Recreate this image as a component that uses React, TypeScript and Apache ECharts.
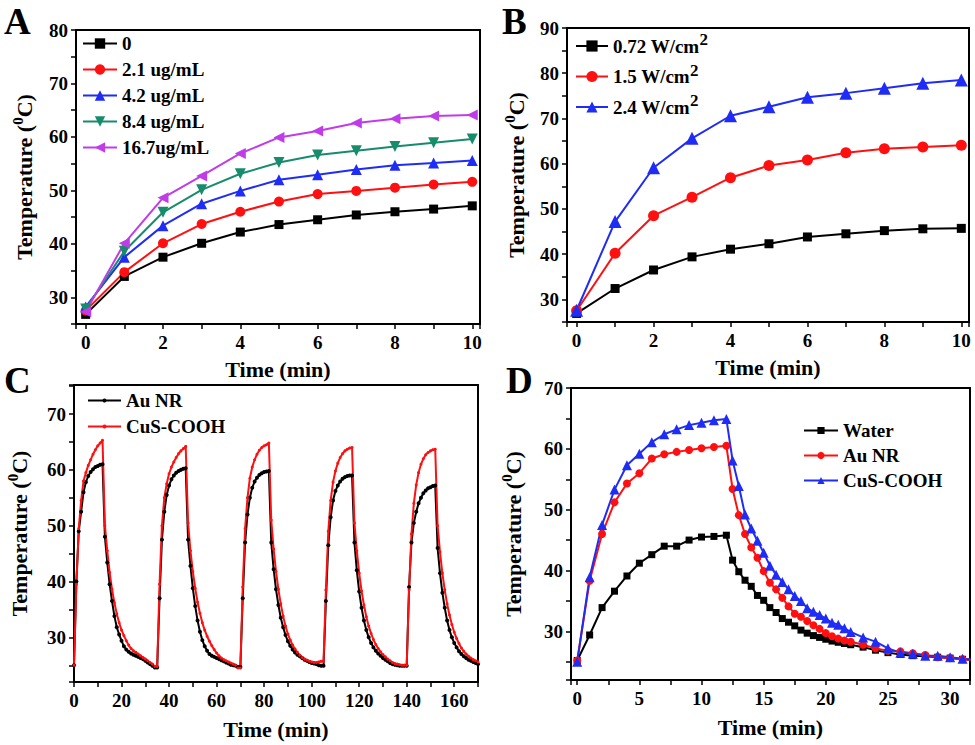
import React, { useEffect, useRef } from 'react';
import * as echarts from 'echarts';

const FONT = '"Liberation Serif", "Times New Roman", serif';

// ---------- Panel A ----------
const timeA = [0, 1, 2, 3, 4, 5, 6, 7, 8, 9, 10];
const namesA = ['0', '2.1 ug/mL', '4.2 ug/mL', '8.4 ug/mL', '16.7ug/mL'];
const a0 = [26.8, 33.9, 37.5, 40.1, 42.2, 43.6, 44.5, 45.4, 46.0, 46.5, 47.1];
const a21 = [27.5, 34.7, 40.1, 43.7, 46.0, 47.9, 49.3, 49.9, 50.5, 51.1, 51.6];
const a42 = [28.2, 37.5, 43.4, 47.5, 49.9, 52.0, 52.9, 53.9, 54.7, 55.1, 55.6];
const a84 = [27.8, 38.6, 45.9, 50.1, 53.1, 55.2, 56.6, 57.4, 58.2, 58.9, 59.6];
const a167 = [27.3, 40.1, 48.6, 52.7, 56.9, 59.9, 61.1, 62.6, 63.4, 63.9, 64.1];

// ---------- Panel B ----------
const timeB = [0, 1, 2, 3, 4, 5, 6, 7, 8, 9, 10];
const namesB = ['0.72 W/cm', '1.5 W/cm', '2.4 W/cm'];
const b072 = [26.9, 32.4, 36.5, 39.4, 41.1, 42.3, 43.8, 44.5, 45.2, 45.6, 45.7];
const b15 = [27.5, 40.2, 48.5, 52.6, 56.9, 59.6, 60.8, 62.4, 63.3, 63.7, 64.1];
const b24 = [27.6, 47.2, 59.1, 65.6, 70.6, 72.6, 74.7, 75.6, 76.7, 77.8, 78.5];

// ---------- Panel C (1-min readings per on/off cycle) ----------
const cycleStartsC = [0, 35, 70, 105, 140];
const auC1 = [25.0, 40.0, 49.0, 52.5, 56.0, 57.8, 58.9, 59.6, 60.1, 60.5, 60.7, 60.9, 61.0, 48.0, 43.4, 39.5, 36.5, 33.8, 31.8, 30.5, 29.4, 28.4, 27.8, 27.4, 27.1, 26.9, 26.7, 26.5, 26.3, 26.1, 25.8, 25.5, 25.2, 24.9, 24.6];
const auC2 = [24.6, 37.0, 47.5, 52.5, 55.5, 57.2, 58.3, 59.0, 59.5, 59.8, 60.0, 60.2, 60.3, 47.5, 42.8, 38.8, 35.6, 33.0, 31.0, 29.5, 28.4, 27.6, 27.0, 26.7, 26.5, 26.3, 26.1, 25.9, 25.7, 25.5, 25.3, 25.1, 25.0, 24.9, 24.7];
const auC3 = [24.7, 37.0, 47.0, 52.0, 55.0, 56.8, 57.9, 58.6, 59.1, 59.4, 59.6, 59.7, 59.8, 47.0, 42.2, 38.6, 35.8, 33.5, 31.8, 30.4, 29.3, 28.5, 27.8, 27.3, 26.9, 26.6, 26.3, 26.0, 25.8, 25.6, 25.4, 25.3, 25.2, 25.0, 24.9];
const auC4 = [24.9, 36.5, 46.5, 51.5, 54.5, 56.2, 57.2, 57.9, 58.4, 58.7, 58.9, 59.0, 59.0, 47.0, 42.0, 38.2, 35.3, 33.0, 31.3, 30.0, 29.0, 28.2, 27.6, 27.1, 26.7, 26.3, 26.0, 25.7, 25.4, 25.2, 25.1, 25.0, 24.9, 24.9, 24.9];
const auC5 = [24.9, 39.0, 47.0, 50.5, 52.5, 54.0, 55.0, 55.8, 56.3, 56.7, 56.9, 57.1, 57.2, 46.0, 41.5, 38.0, 35.3, 33.0, 31.3, 30.0, 29.0, 28.2, 27.5, 27.0, 26.6, 26.3, 26.0, 25.8, 25.6, 25.4, 25.2];
const cuC1 = [25.0, 39.5, 49.5, 54.5, 58.0, 59.5, 60.8, 61.8, 62.8, 63.6, 64.3, 64.8, 65.3, 50.0, 45.5, 41.6, 38.6, 36.2, 34.2, 32.6, 31.3, 30.3, 29.4, 28.6, 28.0, 27.6, 27.3, 27.0, 26.7, 26.4, 26.1, 25.8, 25.5, 25.2, 24.8];
const cuC2 = [24.8, 39.5, 50.0, 55.0, 57.5, 59.3, 60.5, 61.4, 62.2, 62.9, 63.4, 63.8, 64.2, 50.5, 45.5, 41.8, 38.8, 36.3, 34.3, 32.6, 31.3, 30.2, 29.3, 28.5, 27.8, 27.2, 26.7, 26.3, 26.0, 25.8, 25.6, 25.4, 25.2, 25.0, 24.5];
const cuC3 = [24.5, 39.0, 49.5, 55.0, 58.5, 60.5, 61.8, 62.8, 63.5, 64.0, 64.3, 64.5, 64.8, 51.0, 45.8, 41.8, 38.6, 36.0, 33.8, 32.0, 30.6, 29.5, 28.6, 27.9, 27.3, 26.8, 26.4, 26.1, 25.9, 25.7, 25.6, 25.5, 25.5, 25.6, 25.7];
const cuC4 = [25.7, 38.5, 49.0, 54.5, 57.8, 59.8, 61.2, 62.2, 62.9, 63.4, 63.7, 63.9, 64.0, 50.5, 45.5, 41.5, 38.3, 35.8, 33.7, 32.0, 30.7, 29.6, 28.7, 28.0, 27.4, 26.9, 26.5, 26.1, 25.8, 25.5, 25.3, 25.2, 25.1, 25.0, 25.0];
const cuC5 = [25.0, 38.5, 48.5, 54.0, 57.3, 59.5, 61.0, 62.0, 62.7, 63.1, 63.4, 63.6, 63.7, 50.0, 45.3, 41.5, 38.5, 36.0, 34.0, 32.3, 30.9, 29.8, 28.9, 28.1, 27.5, 27.0, 26.6, 26.3, 26.0, 25.8, 25.6];
const auCycles = [auC1, auC2, auC3, auC4, auC5];
const cuCycles = [cuC1, cuC2, cuC3, cuC4, cuC5];

// ---------- Panel D ----------
const timeD = [0, 1, 2, 3, 4, 5, 6, 7, 8, 9, 10, 11, 12, 12.5, 13, 13.5, 14, 14.5, 15, 15.5, 16, 16.5, 17, 17.5, 18, 18.5, 19, 19.5, 20, 20.5, 21, 21.5, 22, 23, 24, 25, 26, 27, 28, 29, 30, 31, 32];
const waterD = [25.2, 29.4, 33.9, 36.6, 39.1, 41.2, 42.6, 44.0, 44.0, 45.0, 45.5, 45.6, 45.8, 41.7, 39.8, 38.4, 37.4, 35.9, 35.1, 33.9, 33.1, 32.1, 31.5, 30.9, 30.2, 29.7, 29.3, 29.0, 28.7, 28.4, 28.2, 28.0, 27.8, 27.4, 26.9, 26.5, 26.2, 26.0, 25.9, 25.75, 25.6, 25.4, 25.3];
const auD = [25.2, 38.3, 46.0, 51.2, 54.3, 56.0, 58.4, 59.1, 59.5, 59.8, 60.1, 60.3, 60.5, 53.4, 49.1, 46.0, 43.8, 42.1, 39.9, 38.0, 36.9, 35.5, 34.1, 32.9, 32.4, 31.7, 31.0, 30.4, 29.7, 29.2, 28.8, 28.5, 28.3, 27.8, 27.2, 26.8, 26.7, 26.4, 26.1, 25.75, 25.6, 25.4, 25.3];
const cuD = [25.0, 38.9, 47.5, 53.3, 57.3, 59.2, 61.1, 62.4, 63.2, 63.9, 64.3, 64.7, 64.9, 58.1, 53.9, 49.2, 46.9, 44.9, 42.9, 40.8, 39.3, 38.1, 36.9, 35.8, 35.0, 33.8, 33.2, 32.7, 32.1, 31.4, 31.1, 30.5, 29.9, 29.0, 28.3, 27.2, 26.5, 26.3, 26.0, 26.0, 25.75, 25.5, 25.3];

const pairs = (xs: number[], ys: number[]) => ys.map((y, i) => [xs[i], y]);
const cyclePairs = (cycles: number[][]) =>
  cycles.flatMap((vals, c) => vals.map((v, i) => [cycleStartsC[c] + i, v]));

const isMult = (v: number, s: number) => Math.abs(v / s - Math.round(v / s)) < 1e-6;
const strip = (n: string) => n.replace(/^[A-D]:/, '');

const baseText = { fontFamily: FONT, fontWeight: 'bold' as const, color: '#000' };

function xAxis(gridIndex: number, min: number, max: number, step: number, labelStep: number, nameGap: number) {
  return {
    type: 'value', gridIndex, min, max, minInterval: step, maxInterval: step,
    name: 'Time (min)', nameLocation: 'middle', nameGap,
    nameTextStyle: { ...baseText, fontSize: 22 },
    axisLine: { show: true, onZero: false, lineStyle: { color: '#000', width: 2 } },
    axisTick: { show: true, inside: false, length: 5, lineStyle: { color: '#000', width: 1.5 } },
    axisLabel: {
      ...baseText, fontSize: 19, margin: 9,
      formatter: (v: number) => (isMult(v, labelStep) ? String(Math.round(v)) : ''),
    },
    splitLine: { show: false },
  };
}

function yAxis(gridIndex: number, min: number, max: number, step: number, nameGap: number) {
  return {
    type: 'value', gridIndex, min, max, minInterval: step, maxInterval: step,
    name: '{a|Temperature (}{s|0}{a|C)}', nameLocation: 'middle', nameGap, nameRotate: 90,
    nameTextStyle: {
      ...baseText, fontSize: 22,
      rich: {
        a: { ...baseText, fontSize: 22, lineHeight: 28 },
        s: { ...baseText, fontSize: 15, lineHeight: 15, verticalAlign: 'top' },
      },
    },
    axisLine: { show: true, onZero: false, lineStyle: { color: '#000', width: 2 } },
    axisTick: { show: true, inside: false, length: 5, lineStyle: { color: '#000', width: 1.5 } },
    axisLabel: {
      ...baseText, fontSize: 19, margin: 8,
      formatter: (v: number) => (isMult(v, 10) ? String(Math.round(v)) : ''),
    },
    splitLine: { show: false },
  };
}

function line(name: string, data: number[][], idx: number, color: string, symbol: string, size: number, rotate = 0, width = 2) {
  return {
    type: 'line', name, data, xAxisIndex: idx, yAxisIndex: idx,
    symbol, symbolSize: size, symbolRotate: rotate, showSymbol: true,
    lineStyle: { color, width }, itemStyle: { color, borderWidth: 0 },
    emphasis: { disabled: true }, clip: true, z: 3,
  };
}

const RED = '#ff1010';
const BLUE = '#1f2cf5';
const GREEN = '#178c6c';
const PURPLE = '#c03ce8';

function legendBase(names: string[], left: number, top: number, itemGap: number, itemWidth: number, itemHeight: number) {
  return {
    data: names, left, top, orient: 'vertical', itemGap, itemWidth, itemHeight,
    textStyle: { ...baseText, fontSize: 19 },
    formatter: strip, selectedMode: false, padding: 0,
  };
}

const letterStyle = (t: string) => ({
  text: t, fontFamily: FONT, fontWeight: 'bold', fontSize: 37, fill: '#000', verticalAlign: 'top',
});

export default function App() {
  const ref = useRef<HTMLDivElement>(null);
  useEffect(() => {
    if (!ref.current) return;
    const chart = echarts.init(ref.current, undefined, { renderer: 'svg' });
    const aNames = namesA.map((n) => 'A:' + n);
    const bNames = namesB.map((n) => 'B:' + n);
    const option: any = {
      animation: false,
      backgroundColor: '#fff',
      grid: [
        { left: 76, top: 30, width: 404, height: 294 },
        { left: 567, top: 28, width: 402, height: 294 },
        { left: 74, top: 385, width: 404, height: 297 },
        { left: 571, top: 388, width: 399, height: 292 },
      ].map((g) => ({ ...g, show: true, borderColor: '#000', borderWidth: 2, backgroundColor: 'transparent' })),
      xAxis: [
        xAxis(0, -0.25, 10.2, 1, 2, 34),
        xAxis(1, -0.25, 10.2, 1, 2, 34),
        xAxis(2, 0, 170, 10, 20, 36),
        xAxis(3, -0.5, 31.6, 2.5, 5, 36),
      ],
      yAxis: [
        yAxis(0, 25, 80, 5, 38),
        yAxis(1, 25, 90, 5, 37),
        yAxis(2, 22, 75.2, 5, 41),
        yAxis(3, 22, 70, 5, 44),
      ],
      legend: [
        legendBase(aNames, 82, 34, 7, 34, 13),
        {
          ...legendBase(bNames, 575, 31, 6, 32, 14),
          formatter: (n: string) => `{a|${strip(n)}}{s|2}`,
          textStyle: {
            ...baseText, fontSize: 19,
            rich: {
              a: { ...baseText, fontSize: 19, lineHeight: 30 },
              s: { ...baseText, fontSize: 17, lineHeight: 17, verticalAlign: 'top' },
            },
          },
        },
        legendBase(['C:Au NR', 'C:CuS-COOH'], 87, 391, 7, 33, 5),
        legendBase(['D:Water', 'D:Au NR', 'D:CuS-COOH'], 803, 421, 6, 34, 9),
      ],
      graphic: [
        { type: 'text', x: 4, y: 3, style: letterStyle('A') },
        { type: 'text', x: 502, y: 3, style: letterStyle('B') },
        { type: 'text', x: 4, y: 362, style: letterStyle('C') },
        { type: 'text', x: 506, y: 362, style: letterStyle('D') },
      ],
      series: [
        line(aNames[0], pairs(timeA, a0), 0, '#000', 'rect', 9),
        line(aNames[1], pairs(timeA, a21), 0, RED, 'circle', 10),
        line(aNames[2], pairs(timeA, a42), 0, BLUE, 'triangle', 11),
        line(aNames[3], pairs(timeA, a84), 0, GREEN, 'triangle', 11, 180),
        line(aNames[4], pairs(timeA, a167), 0, PURPLE, 'triangle', 11, 90),
        line(bNames[0], pairs(timeB, b072), 1, '#000', 'rect', 9),
        line(bNames[1], pairs(timeB, b15), 1, RED, 'circle', 11),
        line(bNames[2], pairs(timeB, b24), 1, BLUE, 'triangle', 13),
        line('C:Au NR', cyclePairs(auCycles), 2, '#000', 'circle', 4),
        line('C:CuS-COOH', cyclePairs(cuCycles), 2, RED, 'circle', 3),
        line('D:Water', pairs(timeD, waterD), 3, '#000', 'rect', 7),
        line('D:Au NR', pairs(timeD, auD), 3, RED, 'circle', 8),
        line('D:CuS-COOH', pairs(timeD, cuD), 3, BLUE, 'triangle', 10),
      ],
    };
    chart.setOption(option);
    return () => chart.dispose();
  }, []);
  return <div ref={ref} style={{ position: 'absolute', left: 0, top: 0, width: 975, height: 745 }} />;
}
